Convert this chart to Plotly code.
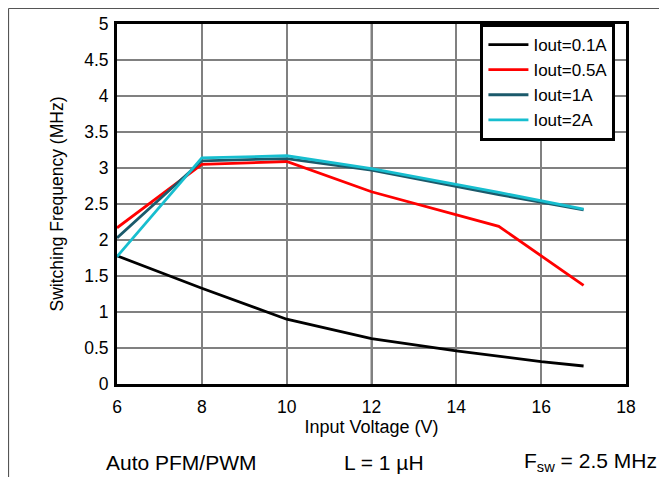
import plotly.graph_objects as go

vin_01 = [6, 8, 10, 12, 14, 15, 16, 17]
f_01 = [1.78, 1.33, 0.90, 0.63, 0.46, 0.38, 0.31, 0.25]

vin_05 = [6, 8, 10, 12, 15, 17]
f_05 = [2.17, 3.05, 3.09, 2.67, 2.19, 1.37]

vin_1 = [6, 8, 10, 12, 15, 17]
f_1 = [2.03, 3.10, 3.13, 2.97, 2.63, 2.42]

vin_2 = [6, 8, 10, 12, 15, 17]
f_2 = [1.77, 3.14, 3.17, 2.99, 2.66, 2.43]

names = ["Iout=0.1A", "Iout=0.5A", "Iout=1A", "Iout=2A"]
colors = ["#000000", "#ff0000", "#1b5a6b", "#17becf"]

x_ticks = [6, 8, 10, 12, 14, 16, 18]
y_ticks = [0, 0.5, 1, 1.5, 2, 2.5, 3, 3.5, 4, 4.5, 5]
y_tick_text = ["0", "0.5", "1", "1.5", "2", "2.5", "3", "3.5", "4", "4.5", "5"]

FONT = "Liberation Sans, Arial, sans-serif"

# page has an 8px body margin: figure is sized so it fills the window
W, H = 659, 469
L, R, T, B = 109, 41, 16, 93
PW, PH = W - L - R, H - T - B

fig = go.Figure()
for xs, ys, n, c in zip([vin_01, vin_05, vin_1, vin_2], [f_01, f_05, f_1, f_2], names, colors):
    fig.add_trace(go.Scatter(x=xs, y=ys, mode="lines", name=n,
                             line=dict(color=c, width=2.8)))

fig.update_layout(
    width=W, height=H,
    margin=dict(l=L, r=R, t=T, b=B, autoexpand=False),
    paper_bgcolor="white", plot_bgcolor="white",
    font=dict(family=FONT, size=17.5, color="black"),
    showlegend=True,
    legend=dict(x=0.714, y=1.0, xanchor="left", yanchor="top",
                bgcolor="white", bordercolor="black", borderwidth=3,
                font=dict(size=17, family=FONT), tracegroupgap=0,
                itemwidth=40),
    xaxis=dict(range=[6, 18], tickvals=x_ticks, ticktext=[str(v) for v in x_ticks],
               showgrid=True, gridcolor="#808080", gridwidth=1.6,
               zeroline=False, showline=True, linecolor="black", linewidth=3,
               mirror=True, ticks="", ticklen=0, ticklabelstandoff=5,
               title=dict(text="Input Voltage (V)", standoff=3, font=dict(size=18))),
    yaxis=dict(range=[0, 5], tickvals=y_ticks, ticktext=y_tick_text,
               showgrid=True, gridcolor="#808080", gridwidth=1.6,
               zeroline=False, showline=True, linecolor="black", linewidth=3,
               mirror=True, ticks="", ticklen=0, ticklabelstandoff=2,
               title=dict(text="Switching Frequency (MHz)", standoff=17, font=dict(size=17.5))),
)

# darker vertical gridline at 12 V
fig.add_shape(type="line", xref="x", yref="paper", x0=12, x1=12, y0=0, y1=1,
              line=dict(color="black", width=1.5), layer="below")

# outer frame (top and left edges of the figure)
fig.add_shape(type="line", xref="paper", yref="paper",
              x0=(0.5 - L) / PW, x1=(W - L) / PW,
              y0=(PH + T - 0.5) / PH, y1=(PH + T - 0.5) / PH,
              line=dict(color="#555555", width=1.2))
fig.add_shape(type="line", xref="paper", yref="paper",
              x0=(0.5 - L) / PW, x1=(0.5 - L) / PW,
              y0=-B / PH, y1=(PH + T - 0.5) / PH,
              line=dict(color="#555555", width=1.2))

bottom_y = (384 - 462) / 360
notes = ["Auto PFM/PWM", "L = 1 µH", "F<sub>sw</sub> = 2.5 MHz"]
note_x = [181, 384, 590]
for txt, px in zip(notes, note_x):
    fig.add_annotation(text=txt, xref="paper", yref="paper",
                       x=(px - 117) / PW, y=bottom_y, showarrow=False,
                       font=dict(size=21, family=FONT), xanchor="center", yanchor="middle")

fig.write_html("out.html")
